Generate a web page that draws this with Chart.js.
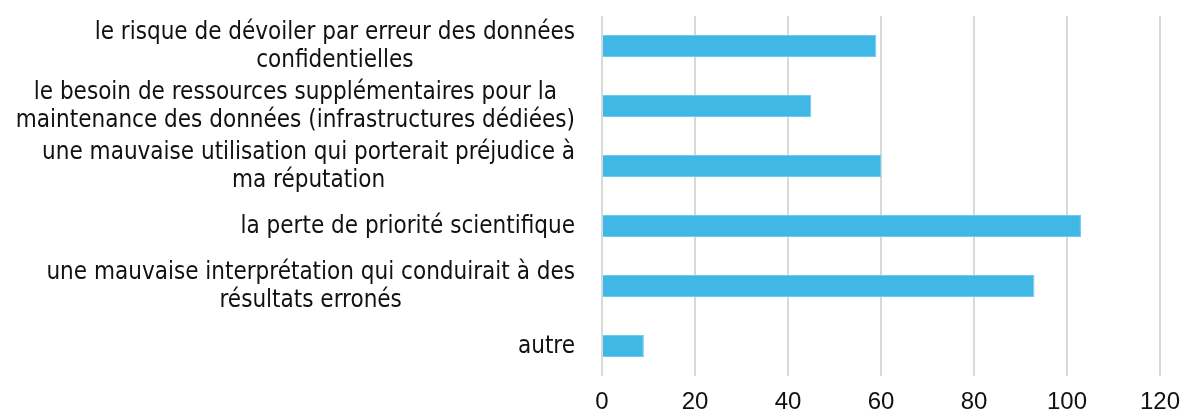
<!DOCTYPE html>
<html>
<head>
<meta charset="utf-8">
<script src="https://cdn.jsdelivr.net/npm/chart.js@4/dist/chart.umd.min.js"></script>
<style>
  html, body { margin: 0; padding: 0; background: #fff; }
  #wrap { width: 1181px; height: 417px; position: relative; }
</style>
</head>
<body>
<div id="wrap"><canvas id="bar_chart"></canvas></div>
<script>
// categories (each one split in lines like the original) and values
const categories = [
  ['le risque de dévoiler par erreur des données', 'confidentielles'],
  ['le besoin de ressources supplémentaires pour la', 'maintenance des données (infrastructures dédiées)'],
  ['une mauvaise utilisation qui porterait préjudice à', 'ma réputation'],
  ['la perte de priorité scientifique'],
  ['une mauvaise interprétation qui conduirait à des', 'résultats erronés'],
  ['autre']
];
const values = [59, 45, 60, 103, 93, 9];
const x_ticks = [0, 20, 40, 60, 80, 100, 120];

const label_font = '24px "Liberation Sans Narrow", "DejaVu Sans Condensed", sans-serif';
const label_right = 575;
const line_height = 28;

// y labels: block right aligned, lines centered inside the block
const centered_labels = {
  id: 'centered_labels',
  afterDraw(chart) {
    const ctx = chart.ctx;
    const y_scale = chart.scales.y;
    ctx.save();
    ctx.font = label_font;
    ctx.fillStyle = '#111';
    ctx.textAlign = 'center';
    ctx.textBaseline = 'middle';
    for (let i = 0; i < categories.length; i++) {
      const lines = categories[i];
      let max_w = 0;
      for (const l of lines) max_w = Math.max(max_w, ctx.measureText(l).width);
      const cx = label_right - max_w / 2;
      const cy = y_scale.getPixelForTick(i) + 1;
      const top = cy - (lines.length - 1) * line_height / 2;
      lines.forEach(function (l, k) {
        ctx.fillText(l, cx, top + k * line_height);
      });
    }
    ctx.restore();
  }
};

var ctx = document.getElementById('bar_chart').getContext('2d');
var myChart = new Chart(ctx, {
  type: 'bar',
  data: {
    labels: categories.map(c => c.join(' ')),
    datasets: [{
      data: values,
      backgroundColor: '#3fb8e5',
      borderColor: '#6ccbee',
      borderWidth: 1,
      barPercentage: 0.74,
      categoryPercentage: 0.5
    }]
  },
  options: {
    indexAxis: 'y',
    responsive: true,
    maintainAspectRatio: false,
    animation: false,
    layout: { padding: { top: 16, right: 0, bottom: 0, left: 0 } },
    plugins: { legend: { display: false }, tooltip: { enabled: false } },
    scales: {
      x: {
        min: 0,
        max: 120,
        afterBuildTicks: function (axis) {
          axis.ticks = x_ticks.map(v => ({ value: v }));
        },
        afterFit: function (scale) {
          scale.height = 41;
          scale.paddingLeft = 0;
          scale.paddingRight = 21;
        },
        grid: { color: '#d9d9d9', lineWidth: 2, drawTicks: false },
        border: { display: false },
        ticks: {
          padding: 12,
          color: '#111',
          font: { family: '"Liberation Sans Narrow", sans-serif', size: 24 }
        }
      },
      y: {
        grid: { display: false },
        border: { display: false },
        ticks: { display: false },
        afterFit: function (scale) { scale.width = 602; }
      }
    }
  },
  plugins: [centered_labels]
});
</script>
</body>
</html>
